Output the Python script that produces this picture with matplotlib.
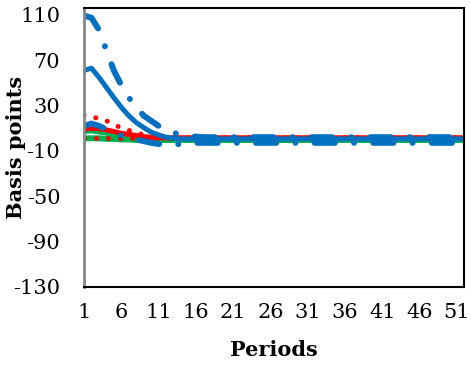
import matplotlib
matplotlib.use("Agg")
import matplotlib.pyplot as plt

plt.rcParams['font.family'] = ['DejaVu Serif']
plt.rcParams['axes.unicode_minus'] = False

periods = list(range(1, 53))

# blue long-dash-dot, large initial response
blue_dashdot_1 = [109.5, 107.5, 97, 79, 61, 48, 37, 29, 21, 16.5, 12, 8.5, 6, 4, 3,
                  2.5, 2, 2, 2, 2, 2, 2, 2, 2, 2, 2, 2, 2, 2, 2,
                  2, 2, 2, 2, 2, 2, 2, 2, 2, 2, 2, 2, 2, 2, 2,
                  2, 2, 2, 2, 2, 2, 2]
# blue long-dash-dot, small initial response
blue_dashdot_2 = [12, 14, 12, 9, 6, 3.5, 1.5, 0, -1.5, -3, -4, -4.5, -4.5, -4, -3.5,
                  -3, -3, -3, -3, -3, -3, -3, -3, -3, -3, -3, -3, -3, -3, -3,
                  -3, -3, -3, -3, -3, -3, -3, -3, -3, -3, -3, -3, -3, -3, -3,
                  -3, -3, -3, -3, -3, -3, -3]
blue_solid = [61, 63, 55, 46, 37, 28.5, 21, 15, 10.5, 6.5, 4, 2, 1, 0.5, 0.5,
              0.5, 0.5, 0.5, 0.5, 0.5, 0.5, 0.5, 0.5, 0.5, 0.5, 0.5, 0.5, 0.5, 0.5, 0.5,
              0.5, 0.5, 0.5, 0.5, 0.5, 0.5, 0.5, 0.5, 0.5, 0.5, 0.5, 0.5, 0.5, 0.5, 0.5,
              0.5, 0.5, 0.5, 0.5, 0.5, 0.5, 0.5]
red_dotted_1 = [21.5, 20, 18.5, 16.5, 13.5, 10, 8, 6, 4, 2, 1.5, 1.5, 1.5, 1.5, 1.5,
                1.5, 1.5, 1.5, 1.5, 1.5, 1.5, 1.5, 1.5, 1.5, 1.5, 1.5, 1.5, 1.5, 1.5, 1.5,
                1.5, 1.5, 1.5, 1.5, 1.5, 1.5, 1.5, 1.5, 1.5, 1.5, 1.5, 1.5, 1.5, 1.5, 1.5,
                1.5, 1.5, 1.5, 1.5, 1.5, 1.5, 1.5]
red_solid = [9, 10, 9.5, 8.5, 7, 5.5, 4.5, 3.5, 2.5, 2, 1.5, 1.5, 1.5, 1.5, 1.5,
             1.5, 1.5, 1.5, 1.5, 1.5, 1.5, 1.5, 1.5, 1.5, 1.5, 1.5, 1.5, 1.5, 1.5, 1.5,
             1.5, 1.5, 1.5, 1.5, 1.5, 1.5, 1.5, 1.5, 1.5, 1.5, 1.5, 1.5, 1.5, 1.5, 1.5,
             1.5, 1.5, 1.5, 1.5, 1.5, 1.5, 1.5]
red_dotted_2 = [1.5, 1.5, 1.5, 1.5, 1.5, 1.5, 1.5, 1.5, 1.5, 1.5, 1.5, 1.5, 1.5, 1.5, 1.5,
                1.5, 1.5, 1.5, 1.5, 1.5, 1.5, 1.5, 1.5, 1.5, 1.5, 1.5, 1.5, 1.5, 1.5, 1.5,
                1.5, 1.5, 1.5, 1.5, 1.5, 1.5, 1.5, 1.5, 1.5, 1.5, 1.5, 1.5, 1.5, 1.5, 1.5,
                1.5, 1.5, 1.5, 1.5, 1.5, 1.5, 1.5]
green_1 = [7.5, 8, 7, 6, 5, 4, 3, 2, 1, 0, -0.5, -0.5, -0.5, -0.5, -0.5,
           -0.5, -0.5, -0.5, -0.5, -0.5, -0.5, -0.5, -0.5, -0.5, -0.5, -0.5, -0.5, -0.5, -0.5, -0.5,
           -0.5, -0.5, -0.5, -0.5, -0.5, -0.5, -0.5, -0.5, -0.5, -0.5, -0.5, -0.5, -0.5, -0.5, -0.5,
           -0.5, -0.5, -0.5, -0.5, -0.5, -0.5, -0.5]
green_2 = [1, 1, 1, 0.5, 0.5, 0, 0, -0.5, -0.5, -0.5, -0.5, -0.5, -0.5, -0.5, -0.5,
           -0.5, -0.5, -0.5, -0.5, -0.5, -0.5, -0.5, -0.5, -0.5, -0.5, -0.5, -0.5, -0.5, -0.5, -0.5,
           -0.5, -0.5, -0.5, -0.5, -0.5, -0.5, -0.5, -0.5, -0.5, -0.5, -0.5, -0.5, -0.5, -0.5, -0.5,
           -0.5, -0.5, -0.5, -0.5, -0.5, -0.5, -0.5]

x_ticks = [1, 6, 11, 16, 21, 26, 31, 36, 41, 46, 51]
y_ticks = [-130, -90, -50, -10, 30, 70, 110]

BLUE = "#0070C0"
RED = "#FF0000"
GREEN = "#00B050"

fig = plt.figure(figsize=(4.71, 3.67), dpi=100)
ax = fig.add_axes([0.1783, 0.2193, 0.8074, 0.7602])

dashdot = (0, (3.4, 3.2, 0.01, 3.2))
dots = (0, (0.01, 2.4))

ax.plot(periods, green_2, color=GREEN, lw=4.3, solid_capstyle="round")
ax.plot(periods, green_1, color=GREEN, lw=4.3, solid_capstyle="round")
ax.plot(periods, red_dotted_2, color=RED, lw=3.6, linestyle=dots, dash_capstyle="round")
ax.plot(periods, red_solid, color=RED, lw=3.6, solid_capstyle="round")
ax.plot(periods, red_dotted_1, color=RED, lw=3.6, linestyle=dots, dash_capstyle="round")
ax.plot(periods, blue_solid, color=BLUE, lw=3.6, solid_capstyle="round")
ax.plot(periods, blue_dashdot_2, color=BLUE, lw=4.3, linestyle=dashdot, dash_capstyle="round")
ax.plot(periods, blue_dashdot_1, color=BLUE, lw=4.3, linestyle=dashdot, dash_capstyle="round")

ax.set_xlim(1, 52)
ax.set_ylim(-130, 116.6)
ax.set_xticks(x_ticks)
ax.set_yticks(y_ticks)
ax.tick_params(axis="both", length=0, labelsize=15)
ax.tick_params(axis="y", pad=17)
ax.tick_params(axis="x", pad=12)

for side in ["top", "right", "bottom"]:
    ax.spines[side].set_color("black")
    ax.spines[side].set_linewidth(1.5)
ax.spines["left"].set_color("#868686")
ax.spines["left"].set_linewidth(2)

ax.set_xlabel("Periods", fontsize=15, fontweight="bold")
ax.set_ylabel("Basis points", fontsize=15, fontweight="bold")
ax.xaxis.set_label_coords(0.5, -0.228)
ax.xaxis.label.set_verticalalignment("center")
ax.yaxis.set_label_coords(-0.179, 0.5)
ax.yaxis.label.set_verticalalignment("center")

fig.savefig("out.png", dpi=100)
